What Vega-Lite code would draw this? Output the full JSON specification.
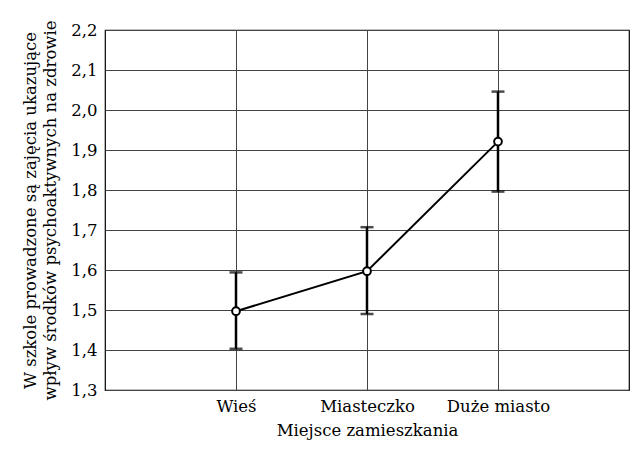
{
  "$schema": "https://vega.github.io/schema/vega-lite/v6.json",
  "width": 524,
  "height": 360,
  "autosize": "none",
  "padding": {"left": 105, "top": 30, "right": 6, "bottom": 61},
  "background": "white",
  "config": {
    "font": "DejaVu Serif",
    "view": {"stroke": "black", "strokeWidth": 1.2},
    "axis": {"labelFont": "DejaVu Serif", "titleFont": "DejaVu Serif", "labelColor": "black", "titleColor": "black", "titleFontWeight": "normal", "domain": false, "ticks": false, "gridColor": "#444", "gridOpacity": 1, "gridWidth": 1, "labelOverlap": false}
  },
  "data": {"values": [
    {"m": "Wieś", "mean": 1.497, "lo": 1.403, "hi": 1.594},
    {"m": "Miasteczko", "mean": 1.597, "lo": 1.49, "hi": 1.707},
    {"m": "Duże miasto", "mean": 1.921, "lo": 1.796, "hi": 2.046}
  ]},
  "encoding": {
    "x": {"field": "m", "type": "nominal", "sort": null,
      "scale": {"type": "point", "padding": 1},
      "axis": {"title": "Miejsce zamieszkania", "labelAngle": 0, "labelFontSize": 16.5, "titleFontSize": 16.5, "labelPadding": 8, "titlePadding": 8, "grid": true}}
  },
  "layer": [
    {"mark": {"type": "rule", "color": "black", "strokeWidth": 2.5},
     "encoding": {
       "y": {"field": "lo", "type": "quantitative",
         "scale": {"domain": [1.3, 2.2], "nice": false, "zero": false},
         "axis": {"values": [1.3, 1.4, 1.5, 1.6, 1.7, 1.8, 1.9, 2.0, 2.1, 2.2],
           "labelExpr": "replace(format(datum.value, '.1f'), '.', ',')",
           "labelFontSize": 16.5, "titleFontSize": 16.5, "labelPadding": 8, "titlePadding": 12, "titleLineHeight": 20,
           "grid": true,
           "title": ["W szkole prowadzone są zajęcia ukazujące", "wpływ  środków psychoaktywnych na zdrowie"]}},
       "y2": {"field": "hi"}
     }},
    {"mark": {"type": "tick", "color": "black", "thickness": 2.5, "size": 13},
     "encoding": {"y": {"field": "lo", "type": "quantitative",
         "axis": {"values": [1.3, 1.4, 1.5, 1.6, 1.7, 1.8, 1.9, 2.0, 2.1, 2.2],
           "labelExpr": "replace(format(datum.value, '.1f'), '.', ',')",
           "labelFontSize": 16.5, "titleFontSize": 16.5, "labelPadding": 8, "titlePadding": 12, "titleLineHeight": 20,
           "grid": true,
           "title": ["W szkole prowadzone są zajęcia ukazujące", "wpływ  środków psychoaktywnych na zdrowie"]}}}},
    {"mark": {"type": "tick", "color": "black", "thickness": 2.5, "size": 13},
     "encoding": {"y": {"field": "hi", "type": "quantitative",
         "axis": {"values": [1.3, 1.4, 1.5, 1.6, 1.7, 1.8, 1.9, 2.0, 2.1, 2.2],
           "labelExpr": "replace(format(datum.value, '.1f'), '.', ',')",
           "labelFontSize": 16.5, "titleFontSize": 16.5, "labelPadding": 8, "titlePadding": 12, "titleLineHeight": 20,
           "grid": true,
           "title": ["W szkole prowadzone są zajęcia ukazujące", "wpływ  środków psychoaktywnych na zdrowie"]}}}},
    {"mark": {"type": "line", "color": "black", "strokeWidth": 2},
     "encoding": {"y": {"field": "mean", "type": "quantitative",
         "axis": {"values": [1.3, 1.4, 1.5, 1.6, 1.7, 1.8, 1.9, 2.0, 2.1, 2.2],
           "labelExpr": "replace(format(datum.value, '.1f'), '.', ',')",
           "labelFontSize": 16.5, "titleFontSize": 16.5, "labelPadding": 8, "titlePadding": 12, "titleLineHeight": 20,
           "grid": true,
           "title": ["W szkole prowadzone są zajęcia ukazujące", "wpływ  środków psychoaktywnych na zdrowie"]}}}},
    {"mark": {"type": "point", "shape": "circle", "filled": true, "fill": "white", "stroke": "black", "strokeWidth": 2, "size": 60, "opacity": 1},
     "encoding": {"y": {"field": "mean", "type": "quantitative",
         "axis": {"values": [1.3, 1.4, 1.5, 1.6, 1.7, 1.8, 1.9, 2.0, 2.1, 2.2],
           "labelExpr": "replace(format(datum.value, '.1f'), '.', ',')",
           "labelFontSize": 16.5, "titleFontSize": 16.5, "labelPadding": 8, "titlePadding": 12, "titleLineHeight": 20,
           "grid": true,
           "title": ["W szkole prowadzone są zajęcia ukazujące", "wpływ  środków psychoaktywnych na zdrowie"]}}}}
  ]
}
